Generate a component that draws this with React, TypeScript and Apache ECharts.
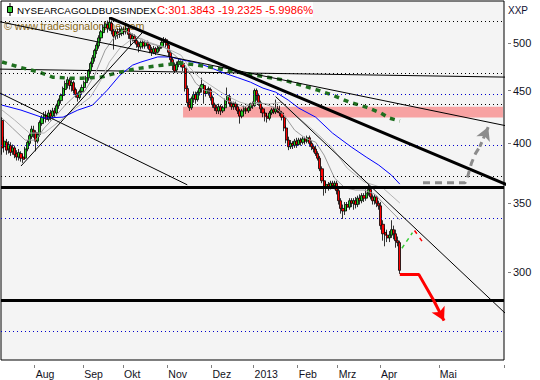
import React, { useEffect, useRef } from 'react';
import * as echarts from 'echarts';

// ---------- axis definitions ----------
const slotCount = 239; // trading days to Apr 12, then calendar days
const monthStarts = [16, 39, 58, 79, 100, 120, 141, 160, 180, 208];
const monthLabels = ['Aug', 'Sep', 'Okt', 'Nov', 'Dez', '2013', 'Feb', 'Mrz', 'Apr', 'Mai'];
const yTickValues = [300, 350, 400, 450, 500];
const yRange = [246.8, 549.4];

// ---------- candles: [open, close, low, high] ----------
const candles: number[][] = [
  [421, 396, 390, 424], [397, 402, 392, 406], [401, 394, 390, 404], [395, 399, 391, 402],
  [398, 392, 389, 401], [393, 396, 390, 399], [396, 390, 387, 398], [391, 388, 385, 394],
  [388, 392, 385, 395], [391, 387, 384, 393], [388, 386, 383, 390], [387, 395, 386, 397],
  [395, 401, 393, 403], [400, 407, 398, 409], [406, 413, 404, 416], [412, 410, 405, 416],
  [410, 402, 393, 412], [402, 408, 400, 410], [408, 419, 406, 421], [418, 424, 416, 426],
  [423, 426, 420, 429], [426, 422, 419, 430], [422, 428, 420, 431], [428, 425, 421, 431],
  [425, 430, 423, 433], [430, 428, 424, 433], [428, 435, 426, 437], [435, 440, 432, 442],
  [440, 445, 437, 447], [445, 452, 443, 454], [451, 457, 448, 460], [457, 461, 452, 464],
  [460, 455, 451, 463], [455, 458, 449, 461], [458, 450, 447, 460], [451, 446, 443, 453],
  [446, 443, 439, 448], [443, 449, 441, 451], [449, 453, 446, 456], [453, 458, 450, 460],
  [458, 463, 455, 465], [463, 470, 460, 472], [470, 478, 467, 480], [478, 484, 474, 487],
  [484, 492, 480, 494], [492, 498, 488, 501], [497, 506, 494, 509], [506, 513, 502, 515],
  [512, 518, 508, 521], [518, 522, 514, 525], [521, 517, 512, 526], [517, 524, 514, 531],
  [523, 514, 510, 526], [514, 508, 493, 516], [508, 513, 504, 516], [513, 510, 505, 517],
  [510, 511, 506, 518], [511, 516, 508, 519], [516, 513, 509, 519], [513, 517, 510, 520],
  [517, 510, 505, 519], [510, 505, 498, 512], [505, 508, 502, 511], [508, 503, 500, 510],
  [503, 499, 495, 506], [499, 496, 490, 502], [496, 501, 493, 503], [501, 497, 494, 504],
  [497, 501, 494, 503], [501, 498, 494, 503], [498, 493, 489, 500], [493, 490, 486, 496],
  [490, 494, 488, 497], [494, 490, 487, 496], [490, 494, 489, 497], [494, 496, 491, 498],
  [496, 501, 494, 503], [501, 504, 498, 507], [504, 498, 495, 506], [498, 490, 486, 500],
  [490, 482, 478, 492], [482, 476, 471, 484], [476, 470, 468, 479], [471, 477, 469, 480],
  [477, 480, 474, 483], [480, 478, 474, 482], [478, 474, 470, 481], [473, 452, 449, 475],
  [452, 438, 434, 455], [438, 433, 430, 442], [433, 442, 431, 444], [442, 446, 438, 449],
  [446, 441, 437, 449], [441, 448, 439, 450], [448, 452, 445, 455], [452, 456, 448, 463],
  [455, 447, 437, 457], [447, 451, 444, 453], [451, 452, 445, 454], [451, 443, 440, 453],
  [443, 436, 433, 445], [436, 433, 430, 438], [433, 430, 427, 436], [430, 434, 427, 437],
  [434, 430, 426, 436], [430, 433, 428, 435], [433, 440, 431, 442], [440, 445, 437, 453],
  [444, 437, 434, 446], [437, 434, 431, 439], [434, 437, 431, 439], [437, 434, 431, 439],
  [434, 430, 427, 436], [430, 425, 418, 432], [425, 430, 423, 432], [430, 432, 428, 435],
  [432, 430, 427, 434], [430, 433, 428, 435], [433, 437, 430, 438], [437, 435, 432, 439],
  [435, 450, 434, 452], [450, 445, 440, 452], [445, 438, 435, 447], [438, 432, 428, 440],
  [432, 428, 424, 434], [428, 425, 420, 430], [425, 423, 419, 428], [423, 428, 421, 430],
  [428, 431, 426, 433], [431, 429, 427, 434], [429, 432, 427, 441], [432, 430, 428, 435],
  [430, 428, 425, 435], [428, 424, 421, 430], [424, 414, 411, 426], [414, 403, 400, 416],
  [403, 397, 394, 406], [397, 400, 395, 403], [400, 398, 395, 402], [398, 402, 396, 404],
  [402, 399, 396, 405], [399, 403, 398, 405], [403, 401, 398, 405], [401, 404, 399, 406],
  [404, 402, 399, 406], [402, 405, 400, 407], [405, 400, 397, 407], [400, 397, 394, 402],
  [397, 395, 392, 399], [395, 391, 389, 398], [391, 387, 385, 393], [387, 378, 376, 389],
  [378, 368, 366, 380], [368, 362, 356, 370], [362, 365, 358, 367], [365, 363, 360, 367],
  [363, 366, 361, 368], [366, 364, 362, 368], [364, 366, 361, 368], [366, 360, 357, 368],
  [360, 352, 349, 362], [352, 346, 342, 354], [346, 344, 338, 349], [344, 349, 341, 351],
  [349, 347, 344, 351], [347, 352, 345, 354], [352, 350, 347, 354], [350, 352, 345, 354],
  [352, 349, 346, 355], [349, 354, 347, 356], [354, 352, 349, 357], [352, 356, 350, 358],
  [356, 354, 351, 358], [354, 358, 352, 361], [358, 361, 356, 365], [361, 355, 353, 362],
  [355, 352, 349, 357], [352, 355, 349, 357], [355, 350, 347, 356], [350, 348, 345, 352],
  [348, 333, 330, 351], [334, 327, 322, 337], [328, 326, 318, 331], [326, 324, 321, 330],
  [324, 326, 321, 329], [326, 330, 324, 337], [330, 327, 323, 333], [327, 322, 317, 330],
  [322, 320.6, 318, 325], [320.6, 301.3843, 299, 322],
];

// ---------- indicator lines: [slot, value] ----------
const blueMA: number[][] = [
  [0, 435.6], [9, 430.8], [20, 423.2], [29, 424.1], [36, 430.8], [43, 435.6], [50, 450.4],
  [56, 465.7], [62, 476.2], [66, 479.5], [74, 485], [80, 485], [86, 481.6], [93, 478.5],
  [99, 473.6], [105, 468.3], [112, 463.1], [118, 458.5], [124, 452.4], [130, 448.4],
  [136, 440.5], [141, 432.7], [149, 424.1], [157, 409.3], [166, 396.7], [173, 388],
  [179, 381.1], [185, 372.7], [189, 365.3],
];
const greenMA: number[][] = [
  [0, 479.6], [9, 473.6], [17, 469.3], [24, 463.6], [32, 462.6], [38, 462.6], [47, 463.6],
  [55, 468.3], [64, 472.5], [76, 476.2], [85, 478.5], [93, 476.2], [100, 473.6], [108, 470.5],
  [116, 467.3], [126, 463.6], [134, 460.6], [142, 455.4], [150, 450.4], [157, 445.4],
  [165, 438.5], [173, 433.7], [180, 427.9], [184, 423.2], [189, 420.4],
];
const grayFast: number[][] = [
  [0, 423.2], [5, 413.8], [11, 402.9], [16, 402.9], [20, 413.8], [25, 424.1], [30, 435.6],
  [35, 445.4], [39, 448.4], [44, 465.7], [49, 492.4], [54, 509], [58, 515], [63, 509],
  [68, 501], [73, 498], [77, 496], [82, 487], [87, 476.2], [92, 457.5], [96, 450.4],
  [101, 448.4], [106, 440.5], [111, 437.5], [115, 433.7], [120, 438.5], [125, 436.6],
  [130, 432.7], [134, 426], [139, 412], [144, 404.7], [149, 401.1], [153, 389.7],
  [158, 370.2], [163, 362.1], [168, 360.5], [172, 360.5], [177, 357.3], [182, 348.6],
  [189, 337.2],
];
const graySlow: number[][] = [
  [0, 430.8], [6, 421.3], [13, 409.3], [20, 409.3], [28, 421.3], [35, 432.7], [42, 443.4],
  [47, 460.6], [51, 479.5], [56, 494.6], [61, 503.5], [66, 505.7], [70, 501], [75, 497],
  [80, 492.4], [85, 487], [89, 474], [94, 462.6], [99, 455.4], [104, 448.4], [108, 443.4],
  [113, 438.5], [118, 435.6], [123, 437.5], [127, 436.6], [133, 438.5], [141, 423.2],
  [149, 410.2], [157, 395.8], [164, 378.5], [172, 367.1], [181, 362.1], [189, 350.2],
];

// ---------- drawn trend lines: [slot, value] end points ----------
const trendThick: number[][] = [[51, 529.5], [241, 364.0]];
const trendA: number[][] = [[-1, 524.5], [241, 415.4]];
const trendB: number[][] = [[-1, 472.0], [241, 463.6]];
const trendC: number[][] = [[130, 443.9], [241, 271.6]];
const trendD: number[][] = [[-1, 447.5], [88, 364.7]];
const trendE: number[][] = [[9, 380.3], [67, 512.9]];
const thickLevels = [361.9, 281];
const blueDotLevels = [451.3, 395.6, 337.2, 265.6];
const blackDotLevels = [529.8, 470.3, 432.6, 372.7];
const zoneSlots = [86, 238];
const zoneValues = [423.8, 434.1];
const grayArrowPath: number[][] = [[200, 366.4], [220, 366.4], [221, 370], [223, 382.6], [225, 391.2], [227, 397]];
const grayArrowHead: number[][] = [[227, 397], [231, 414.8]];
const redArrowPath: number[][] = [[189, 298.7], [198, 298.7], [205, 282.1]];
const redArrowHead: number[][] = [[205, 282.1], [210, 269.4]];
const greenProjection: number[][] = [[190, 316.6], [195, 327.8]];
const redProjection: number[][] = [[196, 329.4], [200, 320.6]];

// ---------- helpers ----------
const FONT = '"Liberation Sans", Arial, sans-serif';
const L = (p: number) => Math.log10(p);
const pts = (arr: number[][]) => arr.map(([x, p]) => [x, L(p)]);
const labelAt: Record<number, string> = {};
monthStarts.forEach((s, k) => { labelAt[s] = monthLabels[k]; });
const categories = Array.from({ length: slotCount }, (_, i) => 'd' + i);

const line = (data: number[][], color: string, width: number, z: number, type: any = 'solid', extra: any = {}) => ({
  type: 'line', data: pts(data), symbol: 'none', showSymbol: false, silent: true, clip: true, z,
  lineStyle: { color, width, type, cap: 'butt' }, ...extra,
});

const arrowHead = (seg: number[][], color: string, width: number, type: any) => ({
  type: 'line', data: [], z: 7, silent: true,
  markLine: {
    silent: true, symbol: ['none', 'arrow'], symbolSize: [11, 13], label: { show: false },
    lineStyle: { color, width, type },
    data: [[{ coord: [seg[0][0], L(seg[0][1])] }, { coord: [seg[1][0], L(seg[1][1])] }]],
  },
});

const option: any = {
  animation: false,
  backgroundColor: '#ffffff',
  grid: { left: 1, top: 1, right: 36, bottom: 20, show: true, backgroundColor: '#f4f4f4', borderColor: '#000', borderWidth: 1 },
  xAxis: {
    type: 'category', data: categories, boundaryGap: true, offset: 5,
    axisLine: { show: false },
    axisTick: { show: true, length: 3, interval: (i: number) => labelAt[i] !== undefined, lineStyle: { color: '#808080' } },
    axisLabel: {
      interval: (i: number) => labelAt[i] !== undefined,
      formatter: (_v: string, i: number) => labelAt[i] ?? '',
      align: 'left', margin: 3, fontSize: 10.5, fontFamily: FONT, color: '#111122',
    },
    splitLine: { show: false },
  },
  yAxis: {
    type: 'value', position: 'right', offset: 4, min: L(yRange[0]), max: L(yRange[1]),
    axisLine: { show: false }, splitLine: { show: false },
    axisTick: { show: true, length: 3, lineStyle: { color: '#808080' }, customValues: yTickValues.map(L) },
    axisLabel: {
      customValues: yTickValues.map(L), margin: 5, fontSize: 11, fontFamily: FONT, color: '#111122',
      formatter: (v: number) => String(Math.round(Math.pow(10, v))),
    },
  },
  graphic: [
    { type: 'text', x: 4, y: 26, z: 1, style: { text: '\u00a9 www.tradesignalonline.com', fill: '#8a6a1a', fontSize: 10.7, fontFamily: FONT, verticalAlign: 'middle' } },
    { type: 'rect', z: 50, shape: { x: 2, y: 2, width: 311, height: 15 }, style: { fill: '#ffffff' } },
    { type: 'line', z: 51, shape: { x1: 10, y1: 3, x2: 10, y2: 16 }, style: { stroke: '#000', lineWidth: 1 } },
    { type: 'rect', z: 52, shape: { x: 7.5, y: 6.5, width: 5, height: 6 }, style: { fill: '#33cc33', stroke: '#000', lineWidth: 1 } },
    { type: 'text', x: 17, y: 10, z: 53, style: { text: 'NYSEARCAGOLDBUGSINDEX', fill: '#000', fontSize: 9.8, fontFamily: FONT, verticalAlign: 'middle' } },
    { type: 'text', x: 157, y: 10, z: 53, style: { text: 'C:301.3843 -19.2325 -5.9986%', fill: '#ff0000', fontSize: 11.2, fontFamily: FONT, verticalAlign: 'middle' } },
    { type: 'text', x: 508, y: 10, z: 53, style: { text: 'XXP', fill: '#111133', fontSize: 10, fontFamily: FONT, verticalAlign: 'middle' } },
  ],
  series: [
    {
      type: 'line', data: [], z: 1, silent: true,
      markArea: {
        silent: true, itemStyle: { color: '#f7a2a2' },
        data: [[{ xAxis: zoneSlots[0], yAxis: L(zoneValues[1]) }, { xAxis: zoneSlots[1], yAxis: L(zoneValues[0]) }]],
      },
    },
    {
      type: 'line', data: [], z: 1, silent: true,
      markLine: {
        silent: true, symbol: ['none', 'none'], label: { show: false },
        data: [
          ...blackDotLevels.map((v) => ({ yAxis: L(v), lineStyle: { color: '#000', width: 1, type: [1, 3] } })),
          ...blueDotLevels.map((v) => ({ yAxis: L(v), lineStyle: { color: '#0000cc', width: 1, type: [1, 3] } })),
        ],
      },
    },
    line(trendB, '#000', 1, 2),
    {
      type: 'candlestick', data: candles.map((c) => c.map(L)), z: 3, barWidth: 2.6, silent: true,
      itemStyle: { color: '#22cc22', color0: '#ff0000', borderColor: '#000', borderColor0: '#000', borderWidth: 0.8 },
    },
    line(graySlow, '#b4b4b4', 1, 4),
    line(grayFast, '#9a9a9a', 1, 4),
    line(blueMA, '#0000ff', 1, 4),
    line(greenMA, '#1f6f1f', 3.5, 4, [5, 5]),
    line(trendA, '#000', 1, 5),
    line(trendC, '#000', 1, 5),
    line(trendD, '#000', 1, 5),
    line(trendE, '#000', 1, 5),
    line(trendThick, '#000', 3, 5),
    {
      type: 'line', data: [], z: 5, silent: true,
      markLine: {
        silent: true, symbol: ['none', 'none'], label: { show: false },
        lineStyle: { color: '#000', width: 3, type: 'solid' },
        data: thickLevels.map((v) => ({ yAxis: L(v) })),
      },
    },
    line(grayArrowPath, '#8c8c8c', 3, 6, [7, 5]),
    arrowHead(grayArrowHead, '#8c8c8c', 3, [5, 4]),
    line(redArrowPath, '#ff0000', 3, 6),
    arrowHead(redArrowHead, '#ff0000', 3, 'solid'),
    line(greenProjection, '#33cc33', 1.5, 6, [4, 4]),
    line(redProjection, '#ff0000', 1.5, 6, [4, 5]),
  ],
};

export default function App() {
  const ref = useRef<HTMLDivElement>(null);
  useEffect(() => {
    const chart = echarts.init(ref.current!, undefined, { renderer: 'svg' });
    chart.setOption(option);
    return () => chart.dispose();
  }, []);
  return (
    <div
      ref={ref}
      style={{ position: 'absolute', left: 0, top: 0, width: 540, height: 380, background: '#fff' }}
    />
  );
}
